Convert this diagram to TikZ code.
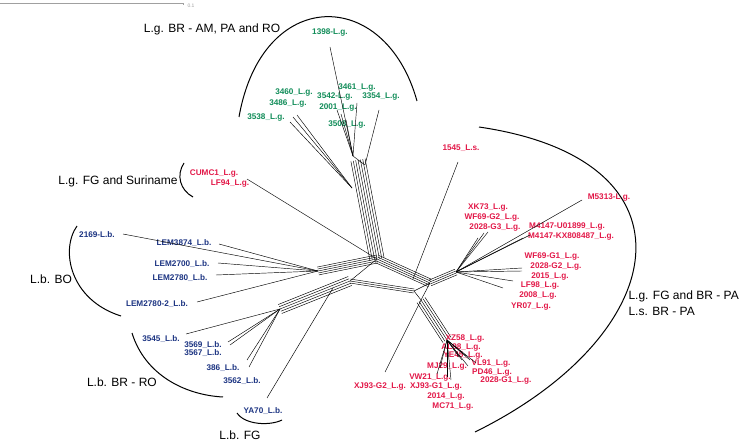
\documentclass[tikz,border=0pt]{standalone}
\usepackage{fontspec}
\setmainfont{Liberation Sans}
\usepackage{xcolor}
\definecolor{green_lg}{RGB}{16,140,88}
\definecolor{red_lg}{RGB}{226,24,72}
\definecolor{blue_lb}{RGB}{28,52,130}
\definecolor{grey_bar}{RGB}{160,160,160}
\usepackage{tikz}
\usetikzlibrary{calc}
\newcommand{\bundle}[4]{%
  \foreach \k in {0,...,#3}{%
    \pgfmathsetmacro{\off}{(\k-#3/2)*#4}%
    \draw[split] ($(#1)!\off pt!90:(#2)$) -- ($(#2)!\off pt!-90:(#1)$);}}

\begin{document}
\begin{tikzpicture}
[
    x = 1pt, y = -1pt,
    leaf/.style = {font = \fontsize{8.2}{9}\selectfont\bfseries, inner sep = 0pt},
    lg/.style = {leaf, text = green_lg},
    lr/.style = {leaf, text = red_lg},
    lb/.style = {leaf, text = blue_lb},
    clade/.style = {font = \fontsize{12}{14}\selectfont, inner sep = 0pt},
    cladearc/.style = {line width = 1pt},
    split/.style = {line width = 0.45pt}
]
\useasboundingbox (0,0) rectangle (740,441);

% scale bar
\coordinate (s0) at (0,3);
\coordinate (s1) at (183,3);
\draw[grey_bar, line width = 0.6pt] (s0) -- (s1) -- ++(0,2);
\node[text = grey_bar, font = \fontsize{5}{6}\selectfont, inner sep = 0pt] (sl) at (191,6) {0.1};

% network skeleton
\coordinate (G1) at (353,156);
\coordinate (G2) at (365,165);
\coordinate (G3) at (352,188);
\coordinate (VT) at (358,160);
\coordinate (C) at (377,259);
\coordinate (LB) at (318,271);
\coordinate (D) at (350,281);
\coordinate (E) at (280,309);
\coordinate (Y1) at (333,288);
\coordinate (R) at (430,283);
\coordinate (Q) at (414,291);
\coordinate (P) at (421,300);
\coordinate (S) at (447,340);
\coordinate (H) at (456,272);
\coordinate (M1) at (413,279);

\bundle{VT}{C}{6}{2.4}
\bundle{C}{LB}{4}{2}
\bundle{D}{E}{4}{2.4}
\bundle{C}{R}{4}{2}
\bundle{D}{Q}{2}{2}
\bundle{R}{H}{3}{2}
\bundle{P}{S}{4}{2.4}
\draw[split] (C) -- (D) (R) -- (Q) -- (P) (R) -- (P) (G1) -- (G2) (G2) -- (VT);

% leaves
\node[lg] (n1398) at (330,33) {1398-L.g.};
\node[lg] (n3460) at (294,93) {3460\_L.g.};
\node[lg] (n3486) at (288,104) {3486\_L.g.};
\node[lg] (n3538) at (266,118) {3538\_L.g.};
\node[lg] (n3461) at (357,88) {3461\_L.g.};
\node[lg] (n3542) at (335,97) {3542-L.g.};
\node[lg] (n2001) at (338,108) {2001\_L.g.};
\node[lg] (n3354) at (381,97) {3354\_L.g.};
\node[lg] (n3508) at (347,125) {3508\_L.g.};

\node[lr] (nCUMC1) at (214,174) {CUMC1\_L.g.};
\node[lr] (nLF94) at (230,184) {LF94\_L.g.};
\node[lr] (n1545) at (461,148) {1545\_L.s.};
\node[lr] (nM5313) at (609,198) {M5313-L.g.};
\node[lr] (nXK73) at (488,208) {XK73\_L.g.};
\node[lr] (nWF69G2) at (492,218) {WF69-G2\_L.g.};
\node[lr] (n2028G3) at (495,228) {2028-G3\_L.g.};
\node[lr] (nM4147a) at (567,227) {M4147-U01899\_L.g.};
\node[lr] (nM4147b) at (571,237) {M4147-KX808487\_L.g.};
\node[lr] (nWF69G1) at (552,257) {WF69-G1\_L.g.};
\node[lr] (n2028G2) at (556,267) {2028-G2\_L.g.};
\node[lr] (n2015) at (550,277) {2015\_L.g.};
\node[lr] (nLF98) at (540,286) {LF98\_L.g.};
\node[lr] (n2008) at (538,296) {2008\_L.g.};
\node[lr] (nYR07) at (531,307) {YR07\_L.g.};
\node[lr] (nXZ58) at (465,339) {XZ58\_L.g.};
\node[lr] (nAL98) at (461,348) {AL98\_L.g.};
\node[lr] (nYE45) at (463,356) {YE45\_L.g.};
\node[lr] (nMJ29) at (447,367) {MJ29\_L.g.};
\node[lr] (nVL91) at (491,364) {VL91\_L.g.};
\node[lr] (nPD46) at (492,373) {PD46\_L.g.};
\node[lr] (n2028G1) at (506,381) {2028-G1\_L.g.};
\node[lr] (nVW21) at (430,378) {VW21\_L.g.};
\node[lr] (nXJ93G2) at (380,387) {XJ93-G2\_L.g.};
\node[lr] (nXJ93G1) at (436,387) {XJ93-G1\_L.g.};
\node[lr] (n2014) at (446,397) {2014\_L.g.};
\node[lr] (nMC71) at (453,407) {MC71\_L.g.};

\node[lb] (n2169) at (97,235) {2169-L.b.};
\node[lb] (nLEM3874) at (184,243) {LEM3874\_L.b.};
\node[lb] (nLEM2700) at (182,264) {LEM2700\_L.b.};
\node[lb] (nLEM2780) at (180,278) {LEM2780\_L.b.};
\node[lb] (nLEM27802) at (157,304) {LEM2780-2\_L.b.};
\node[lb] (n3545) at (161,339) {3545\_L.b.};
\node[lb] (n3569) at (203,345) {3569\_L.b.};
\node[lb] (n3567) at (203,353) {3567\_L.b.};
\node[lb] (n386) at (223,368) {386\_L.b.};
\node[lb] (n3562) at (242,381) {3562\_L.b.};
\node[lb] (nYA70) at (263,411) {YA70\_L.b.};

% leaf edges
\foreach \x/\y/\h in {330/47/G1, 337/110/G1, 341/114/G1, 346/120/G1, 357/103/G1, 379/110/G2,
    297/115/G3, 293/117/G3, 290/122/G3, 247/179/C, 458/162/M1, 385/372/P,
    478/238/H, 484/233/H, 488/232/H, 582/200/H, 523/238/H, 530/235/H,
    522/268/H, 522/271/H, 513/281/H, 503/288/H,
    466/356/S, 470/360/S, 462/360/S, 476/363/S, 468/366/S, 459/357/S,
    440/368/S, 437/374/S, 447/377/S, 451/380/S,
    123/234/LB, 219/244/LB, 218/263/LB, 216/275/LB, 197/302/LB,
    186/334/E, 228/342/E, 230/345/E, 247/360/E, 249/367/E, 267/398/Y1}
  \draw[split] (\x,\y) -- (\h);

% clades
\node[clade] (cBR) at (212,29) {L.g. BR - AM, PA and RO};
\draw[cladearc] (239,117) .. controls (262,-14) and (385,-14) .. (417,101);
\node[clade] (cFG) at (118,181) {L.g. FG and Suriname};
\draw[cladearc] (184,163) .. controls (176,175) and (180,190) .. (193,197);
\node[clade] (cBO) at (51,279) {L.b. BO};
\draw[cladearc] (77,226) .. controls (60,250) and (70,300) .. (121,316);
\node[clade, anchor = east] (cRO) at (157,382) {L.b. BR - RO};
\draw[cladearc] (132,333) .. controls (145,375) and (185,395) .. (223,397);
\node[clade] (cLbFG) at (240,435) {L.b. FG};
\draw[cladearc] (237,413) .. controls (245,425) and (270,426) .. (282,420);
\node[clade, anchor = east] (cPA) at (739,296) {L.g. FG and BR - PA};
\node[clade, anchor = west] (cLs) at (cPA.west |- 0,311) {L.s. BR - PA};
\draw[cladearc] (479,127) .. controls (705,160) and (672,335) .. (475,432);
\end{tikzpicture}
\end{document}
